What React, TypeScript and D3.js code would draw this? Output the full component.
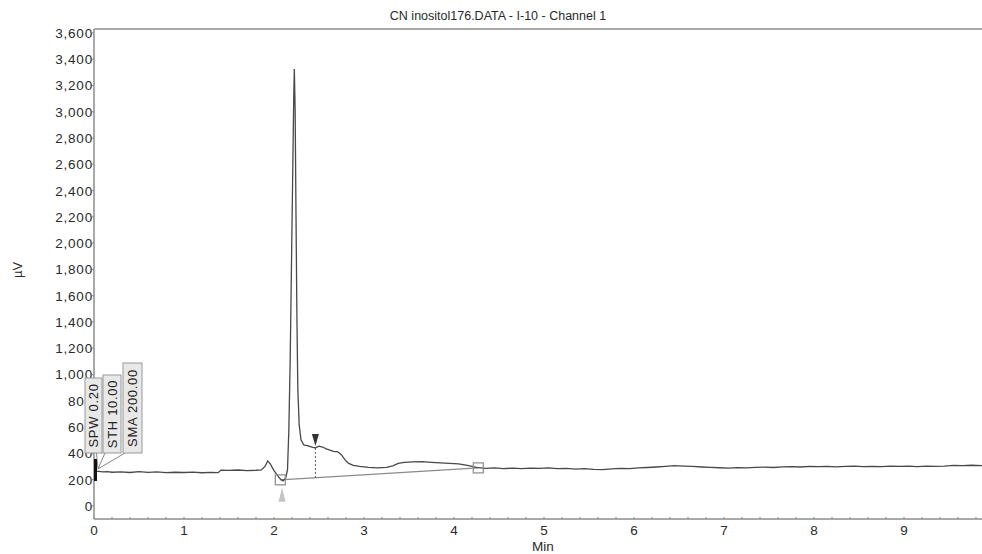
import React from "react";
import * as d3 from "d3";

// chromatogram trace (minutes, µV)
const traceMin = [
  0.0, 0.05, 0.1, 0.15, 0.2, 0.3, 0.4, 0.5, 0.6, 0.7, 0.8, 0.9, 1.0, 1.1, 1.2, 1.3, 1.38, 1.41,
  1.5, 1.6, 1.7, 1.8, 1.86, 1.9, 1.93, 1.96, 2.0, 2.04, 2.07, 2.1, 2.13, 2.15, 2.165, 2.18,
  2.195, 2.21, 2.22, 2.226, 2.235, 2.245, 2.255, 2.265, 2.28, 2.3, 2.33, 2.38, 2.43, 2.46,
  2.5, 2.54, 2.58, 2.62, 2.66, 2.71, 2.75, 2.79, 2.83, 2.88, 2.95, 3.05, 3.15, 3.25, 3.32,
  3.38, 3.45, 3.55, 3.65, 3.75, 3.85, 3.95, 4.05, 4.15, 4.25, 4.35, 4.45, 4.55, 4.65, 4.75,
  4.85, 4.95, 5.05, 5.15, 5.25, 5.35, 5.45, 5.55, 5.65, 5.75, 5.85, 5.95, 6.05, 6.15, 6.25,
  6.35, 6.45, 6.55, 6.65, 6.75, 6.85, 6.95, 7.05, 7.15, 7.25, 7.35, 7.45, 7.55, 7.65, 7.75,
  7.85, 7.95, 8.05, 8.15, 8.25, 8.35, 8.45, 8.55, 8.65, 8.75, 8.85, 8.95, 9.05, 9.15, 9.25,
  9.35, 9.45, 9.55, 9.65, 9.75, 9.87,
];
const traceUV = [
  266, 262, 258, 261, 256, 259, 254, 260, 255, 258, 253, 256, 254, 257, 252, 255, 253, 272,
  270, 273, 268, 271, 274, 300, 342, 318, 268, 230, 205, 190, 213, 274, 578, 1111,
  1872, 2633, 3128, 3326, 3014, 2177, 1416, 883, 616, 502, 464, 457, 445, 441,
  455, 448, 434, 425, 415, 411, 388, 350, 323, 308, 301, 293, 289, 293, 304,
  323, 331, 335, 336, 331, 327, 323, 320, 308, 293, 286, 289, 284, 287, 283,
  288, 285, 289, 283, 286, 280, 284, 278, 276, 281, 285, 283, 289, 292, 296,
  301, 306, 303, 300, 296, 293, 290, 288, 291, 289, 293, 295, 292, 297, 299,
  296, 300, 298, 301, 297, 300, 302, 299, 301, 298, 302, 300, 303, 299, 302,
  300, 303, 308, 306, 309, 306,
];

// integration baseline (start, end) and peak split
const baseMin = [2.07, 4.27];
const baseUV = [198, 289];
const splitMin = 2.46;
const splitUV = 441;

const yTicks = d3.range(0, 3601, 200);
const xTicks = d3.range(0, 10, 1);
const params = ["SPW 0.20", "STH 10.00", "SMA 200.00"];

const W = 982;
const H = 554;
const left = 94;
const top = 29;
const bottom = 519;

export default function App() {
  const x = d3.scaleLinear().domain([0, 9.867]).range([left, W]);
  const y = d3.scaleLinear().domain([-100, 3630]).range([bottom, top]);
  const fmt = d3.format(",");

  const pts = traceMin.map((t, i) => [t, traceUV[i]] as [number, number]);
  const line = d3
    .line<[number, number]>()
    .x((d) => x(d[0]))
    .y((d) => y(d[1]));

  const baseAt = (t: number) =>
    baseUV[0] + ((t - baseMin[0]) / (baseMin[1] - baseMin[0])) * (baseUV[1] - baseUV[0]);

  const minor = d3.range(0, 9.87, 0.2);
  const axisCol = "#8c8c8c";
  const txt = "#2a2a2a";
  const font = "'Liberation Sans', Arial, sans-serif";

  // parameter boxes next to the start of the trace
  const boxes = [
    { x0: 85, w: 17, h: 75, label: params[0] },
    { x0: 103, w: 18, h: 78, label: params[1] },
    { x0: 123, w: 19, h: 90, label: params[2] },
  ];
  const boxBottom = 453;
  const anchorX = x(0) + 4;
  const anchorY = y(266);

  return (
    <svg
      width={W}
      height={H}
      style={{ position: "absolute", left: 0, top: 0, background: "#fff" }}
      fontFamily={font}
    >
      <text x={498} y={20} textAnchor="middle" fontSize={12.5} fill={txt}>
        CN inositol176.DATA - I-10 - Channel 1
      </text>

      {/* frame */}
      <line x1={left} x2={W} y1={top} y2={top} stroke={axisCol} strokeWidth={1.5} />
      <line x1={left} x2={left} y1={top} y2={bottom} stroke={axisCol} strokeWidth={1.5} />
      <line x1={left} x2={W} y1={bottom} y2={bottom} stroke={axisCol} strokeWidth={1.5} />

      {/* y axis */}
      {yTicks.map((v) => (
        <g key={v}>
          <line x1={left - 2} x2={left} y1={y(v)} y2={y(v)} stroke={axisCol} />
          <text
            x={left - 1}
            y={y(v) + 5}
            textAnchor="end"
            fontSize={13.5}
            letterSpacing={0.8}
            fill={txt}
          >
            {fmt(v)}
          </text>
        </g>
      ))}
      <text
        transform={`translate(22,${270}) rotate(-90)`}
        textAnchor="middle"
        fontSize={13}
        fill={txt}
      >
        µV
      </text>

      {/* x axis */}
      {minor.map((t) => (
        <line
          key={t}
          x1={x(t)}
          x2={x(t)}
          y1={bottom}
          y2={bottom - 2}
          stroke={axisCol}
        />
      ))}
      {xTicks.map((t) => (
        <text key={t} x={x(t)} y={535} textAnchor="middle" fontSize={13.5} fill={txt}>
          {t}
        </text>
      ))}
      <text x={543} y={551} textAnchor="middle" fontSize={13.5} fill={txt}>
        Min
      </text>

      {/* integration baseline */}
      <line
        x1={x(baseMin[0])}
        y1={y(baseUV[0])}
        x2={x(baseMin[1])}
        y2={y(baseUV[1])}
        stroke="#8a8a8a"
        strokeWidth={1.2}
      />
      <line
        x1={x(splitMin)}
        x2={x(splitMin)}
        y1={y(splitUV)}
        y2={y(baseAt(splitMin))}
        stroke="#555"
        strokeDasharray="2,2"
      />

      {/* trace */}
      <path d={line(pts) ?? ""} fill="none" stroke="#484848" strokeWidth={1.3} />

      {/* peak start / end markers */}
      {baseMin.map((t, i) => (
        <rect
          key={t}
          x={x(t) - 5}
          y={y(baseUV[i]) - 5}
          width={10}
          height={10}
          fill="none"
          stroke="#8a8a8a"
          strokeWidth={1.2}
        />
      ))}
      <path
        d={`M${x(2.09)},${y(baseUV[0]) + 8} l-3.5,14 l7,0 z`}
        fill="#c4c4c4"
      />
      <path
        d={`M${x(splitMin)},${y(splitUV) - 2} l-3.5,-12 l7,0 z`}
        fill="#333"
      />

      {/* parameter callouts */}
      {boxes.map((b, i) => (
        <g key={b.label}>
          <line
            x1={i === 0 ? b.x0 + b.w / 2 + 3 : b.x0 + 2}
            y1={boxBottom}
            x2={anchorX}
            y2={anchorY - 2}
            stroke="#888"
          />
          <rect
            x={b.x0}
            y={boxBottom - b.h}
            width={b.w}
            height={b.h}
            fill="#e8e8e8"
            stroke="#999"
          />
          <text
            transform={`translate(${b.x0 + b.w / 2 + 4.5},${boxBottom - b.h / 2}) rotate(-90)`}
            textAnchor="middle"
            fontSize={13}
            letterSpacing={0.7}
            fill="#222"
          >
            {b.label}
          </text>
        </g>
      ))}
      <rect x={x(0)} y={459} width={3} height={22} fill="#111" />
    </svg>
  );
}
